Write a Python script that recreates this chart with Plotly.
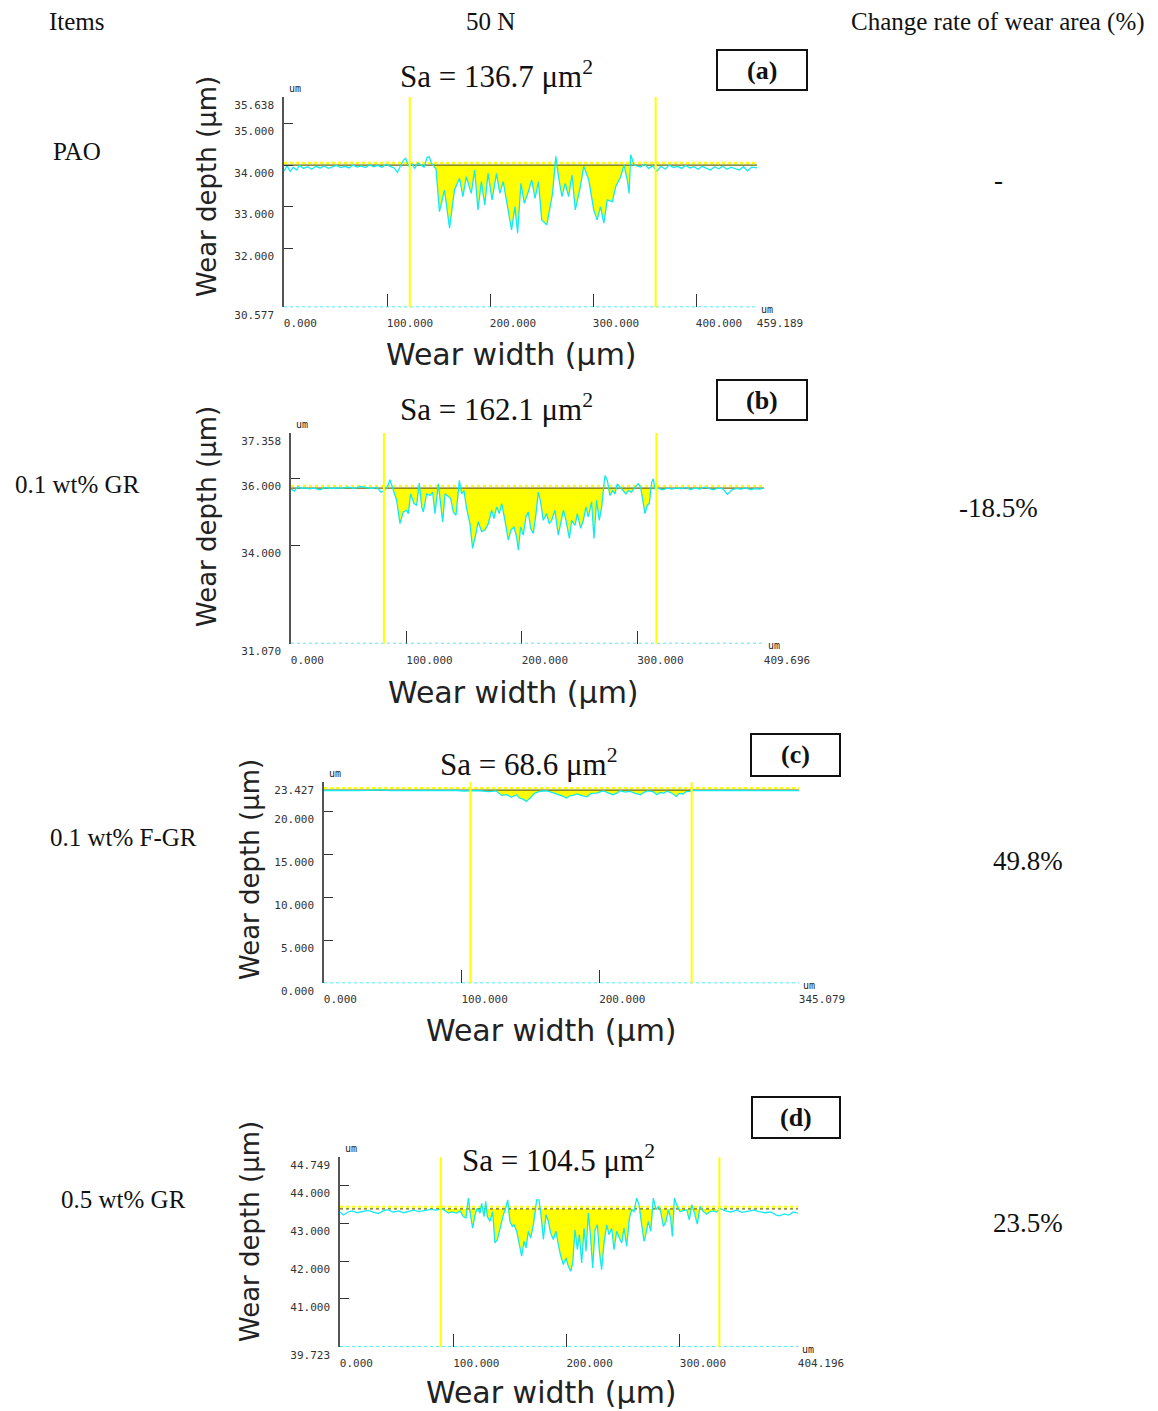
import numpy as np
import plotly.graph_objects as go

W, H = 1158, 1411

# ---------------- table text ----------------
header_items = "Items"
header_load = "50 N"
header_rate = "Change rate of wear area (%)"
lubricants = ["PAO", "0.1 wt% GR", "0.1 wt% F-GR", "0.5 wt% GR"]
change_rates = ["-", "-18.5%", "49.8%", "23.5%"]
panel_tags = ["(a)", "(b)", "(c)", "(d)"]
sa_values = [136.7, 162.1, 68.6, 104.5]

# ---------------- axis extents / ticks (µm) ----------------
x_max = [459.189, 409.696, 345.079, 404.196]
z_min = [30.577, 31.070, 0.0, 39.723]
z_max = [35.638, 37.358, 23.427, 44.749]
x_ticks = [[0, 100, 200, 300, 400], [0, 100, 200, 300], [0, 100, 200], [0, 100, 200, 300]]
z_ticks = [[32, 33, 34, 35], [34, 36], [5, 10, 15, 20], [41, 42, 43, 44]]

# reference level, measuring cursors and evaluated wear section (µm)
base_level = [34.00, 35.71, 22.47, 43.38]
cursor_left = [122.1, 80.5, 106.4, 89.0]
cursor_right = [360.8, 316.5, 267.1, 334.8]
fill_start = [145.0, 86.5, 107.0, 89.0]
fill_end = [336.0, 315.0, 267.0, 335.0]

# ---------------- surface profiles (width µm, height µm) ----------------
a_x = [0, 3, 6, 9, 12, 15, 19, 23, 27, 31, 35, 39, 43, 47, 51, 55, 59, 63, 67, 71, 75, 79, 83, 87,
       91, 95, 99, 103, 107, 110, 113, 116, 118, 121, 124, 127, 130, 133, 136, 139, 141, 143, 145,
       147.6, 150.9, 155.8, 160.7, 165.5, 170.4, 173.7, 177, 181.8, 185.1, 188.3, 191.6, 194.9,
       198.1, 202, 206.3, 209.5, 212.8, 216, 220.9, 224.2, 226.8, 230, 233.3, 237.2, 240.5, 243.7,
       247, 250.2, 255.1, 258.4, 260.7, 263.9, 266.5, 269.8, 273, 276.3, 279.6, 282.8, 287.7, 291,
       295.9, 300.7, 304, 307.3, 310.5, 313.8, 318.7, 322, 326.8, 330.1, 333.3, 335, 336.6, 339.8,
       343.1, 346, 350, 354, 358, 362, 366, 370, 374, 378, 382, 386, 390, 394, 398, 402, 406, 410,
       414, 418, 422, 426, 430, 434, 438, 442, 446, 450, 454, 459.189]
a_z = [33.86, 33.98, 33.85, 33.95, 33.88, 33.99, 33.92, 33.96, 33.90, 33.97, 33.93, 33.98, 33.92,
       33.95, 33.99, 33.94, 33.97, 33.93, 34.00, 33.95, 33.98, 33.94, 34.01, 33.96, 33.99, 33.95,
       34.02, 33.97, 33.93, 33.82, 33.96, 34.12, 34.16, 33.98, 34.03, 33.92, 34.05, 34.00, 33.95,
       34.19, 34.20, 34.05, 33.98,
       33.90, 32.88, 33.40, 32.48, 33.40, 33.68, 33.24, 33.72, 33.32, 33.88, 32.92, 33.60, 33.04,
       33.80, 33.16, 33.80, 33.32, 33.60, 33.16, 32.44, 33.00, 32.36, 33.56, 33.08, 33.36, 33.64,
       33.20, 33.60, 32.68, 32.56, 33.00, 33.32, 34.21, 33.72, 33.24, 33.56, 33.24, 33.76, 32.92,
       33.48, 33.97, 33.64, 32.92, 32.68, 33.00, 32.60, 33.16, 33.12, 33.48, 33.72, 34.00, 33.64,
       33.32, 34.25, 34.00, 33.97,
       33.95, 34.02, 33.92, 33.98, 33.85, 33.97, 33.90, 34.00, 33.94, 33.97, 33.92, 33.99, 33.93,
       33.96, 33.90, 33.97, 33.93, 33.88, 33.96, 33.91, 33.97, 33.90, 33.95, 33.92, 33.88, 33.96,
       33.86, 33.95, 33.93]

b_x = [0, 3, 6, 9, 12, 16, 20, 25, 30, 35, 40, 45, 50, 55, 60, 65, 70, 74, 78, 81, 84, 85.7,
       88.6, 91.5, 94.4, 97.3, 100.2, 101.6, 103.6, 106.5, 108.8, 111.1, 113.2, 114.6, 117.5, 120.4,
       122.7, 124.7, 127.6, 129.6, 131.4, 133.4, 136.3, 138.3, 140.6, 142.9, 145.8, 147.8, 149.8,
       152.1, 155.0, 157.3, 159.6, 162.2, 165.1, 168.0, 170.9, 173.8, 175.8, 178.1, 180.4, 182.5,
       185.3, 188.2, 190.5, 193.1, 195.4, 196.9, 198.9, 201.2, 203.5, 205.5, 207.6, 209.9, 212.2,
       214.2, 216.2, 218.5, 221.4, 223.7, 225.8, 228.6, 231.5, 233.6, 235.9, 238.2, 241.1, 243.1,
       246.0, 248.0, 250.9, 253.2, 255.5, 257.5, 260.4, 262.4, 264.7, 267.0, 269.1, 270.5, 272.0,
       274.0, 276.3, 278.6, 280.6, 282.6, 284.9, 287.8, 290.1, 292.2, 295.0, 297.9, 300.8, 302.8,
       305.2, 306.6, 308.6, 310.3, 312.4, 313.8, 315.3,
       318, 322, 326, 330, 334, 338, 342, 346, 350, 354, 358, 362, 366, 370, 374, 378, 382, 386,
       390, 394, 398, 402, 406, 409.696]
b_z = [35.68, 35.62, 35.76, 35.70, 35.72, 35.69, 35.71, 35.66, 35.73, 35.70, 35.72, 35.71, 35.74,
       35.70, 35.76, 35.72, 35.70, 35.74, 35.59, 35.64, 35.80, 35.96,
       35.64, 35.35, 34.65, 35.00, 35.05, 34.95, 35.54, 35.25, 35.20, 35.86, 35.15, 35.00, 35.54,
       35.49, 35.59, 34.95, 35.84, 35.15, 34.70, 35.54, 35.45, 35.40, 35.00, 34.90, 35.94, 35.54,
       35.64, 35.10, 34.65, 33.91, 34.26, 34.70, 34.41, 34.46, 34.65, 35.05, 34.80, 35.15, 34.95,
       35.25, 34.75, 34.16, 34.46, 34.55, 34.26, 33.86, 34.55, 34.31, 34.85, 35.00, 34.51, 34.36,
       34.95, 35.59, 35.30, 34.75, 34.95, 34.65, 34.75, 35.05, 34.31, 34.70, 35.05, 34.75, 34.21,
       34.75, 34.60, 34.95, 34.51, 34.75, 35.15, 34.85, 35.30, 34.21, 35.35, 34.75, 35.15, 35.64,
       36.09, 35.94, 35.49, 35.64, 35.54, 35.84, 35.74, 35.64, 35.54, 35.64, 35.59, 35.74, 35.84,
       35.74, 35.15, 34.95, 35.20, 35.25, 35.89, 35.99, 35.69,
       35.70, 35.66, 35.71, 35.68, 35.72, 35.69, 35.73, 35.67, 35.71, 35.68, 35.74, 35.70, 35.66,
       35.72, 35.69, 35.53, 35.66, 35.70, 35.68, 35.72, 35.67, 35.70, 35.68, 35.71]

c_x = [0, 8, 16, 24, 32, 40, 48, 56, 64, 72, 80, 88, 96, 102, 106,
       110, 115, 120, 125, 129, 133, 136, 140, 142, 145, 147, 150, 153, 157, 162, 166, 169, 172,
       174, 176, 179, 181, 184, 186, 189, 191, 194, 198, 201, 203, 206, 210, 213, 215, 219, 222,
       226, 230, 232, 235, 239, 242, 244, 247, 249, 252, 256, 258, 261, 263, 266, 268,
       272, 280, 288, 296, 304, 312, 320, 328, 336, 345.079]
c_z = [22.44, 22.42, 22.46, 22.43, 22.45, 22.50, 22.43, 22.44, 22.46, 22.42, 22.45, 22.43, 22.44,
       22.38, 22.44,
       22.42, 22.38, 22.30, 22.40, 21.87, 21.95, 21.64, 21.95, 21.56, 21.40, 21.17, 21.60, 22.10,
       22.35, 22.40, 22.20, 22.03, 21.90, 21.75, 21.56, 21.85, 21.87, 22.03, 21.90, 21.75, 21.70,
       22.10, 22.14, 22.30, 22.40, 22.20, 21.95, 22.15, 22.40, 22.26, 22.35, 22.10, 21.95, 22.20,
       22.40, 22.30, 21.95, 22.20, 22.14, 22.35, 22.20, 21.75, 22.10, 22.03, 22.30, 22.34, 22.45,
       22.43, 22.45, 22.42, 22.46, 22.44, 22.43, 22.45, 22.42, 22.44, 22.43]

d_x = [0, 3, 7, 11, 15, 20, 25, 30, 34, 38, 42, 47, 52, 56, 60, 65, 70, 75, 80, 84, 87,
       89.7, 92.7, 95.6, 98.6, 103.0, 105.9, 108.9, 111.2, 113.3, 115.3, 117.1, 119.2, 121.2, 123.6,
       125.0, 127.1, 128.6, 130.0, 132.4, 134.7, 136.8, 138.9, 141.2, 144.2, 146.2, 148.0, 150.0,
       152.1, 153.6, 155.9, 158.0, 160.3, 162.4, 164.2, 166.2, 168.3, 170.6, 173.6, 175.6, 177.4,
       179.5, 181.8, 183.9, 185.9, 188.3, 190.6, 192.7, 194.8, 197.1, 199.5, 201.5, 203.6, 205.4,
       207.4, 209.5, 211.2, 213.3, 215.4, 217.1, 219.2, 221.2, 223.0, 225.1, 227.1, 228.9, 230.9,
       233.0, 235.4, 237.4, 239.8, 241.8, 244.2, 246.5, 248.6, 250.7, 253.0, 255.4, 257.4, 259.5,
       261.8, 263.9, 266.3, 268.3, 270.1, 272.1, 274.2, 276.5, 278.9, 281.0, 283.0, 285.4, 287.7,
       289.8, 291.8, 293.3, 295.1, 297.1, 300.1, 303.0, 306.0, 308.3, 310.4, 312.4, 315.4, 317.7,
       320.7, 323.6, 326.6, 329.5, 332.4, 335.4,
       340, 345, 350, 355, 360, 365, 370, 375, 380, 385, 388, 392, 396, 400, 404.196]
d_z = [43.30, 43.22, 43.30, 43.33, 43.28, 43.31, 43.34, 43.29, 43.26, 43.33, 43.36, 43.30, 43.33,
       43.28, 43.32, 43.35, 43.31, 43.34, 43.37, 43.35, 43.36,
       43.40, 43.33, 43.27, 43.30, 43.27, 43.33, 43.18, 43.14, 43.67, 43.18, 42.87, 43.23, 43.40,
       43.27, 43.53, 43.18, 43.58, 43.18, 43.05, 43.31, 42.48, 42.57, 42.87, 43.23, 43.40, 43.62,
       43.05, 42.92, 42.96, 42.79, 42.48, 42.13, 42.52, 42.35, 42.79, 42.61, 42.96, 43.62, 43.62,
       43.23, 42.57, 43.23, 43.05, 42.74, 42.57, 42.79, 42.43, 42.13, 41.91, 42.08, 41.86, 41.73,
       41.95, 42.83, 42.30, 42.70, 41.95, 42.87, 42.26, 43.27, 42.61, 41.82, 42.83, 42.96, 42.26,
       41.77, 42.48, 42.96, 42.70, 42.87, 42.30, 42.79, 42.61, 42.48, 42.87, 42.39, 43.14, 43.36,
       43.31, 43.67, 43.49, 42.96, 42.52, 42.74, 43.05, 42.79, 43.67, 43.36, 43.45, 43.31, 42.92,
       43.05, 43.36, 43.14, 42.65, 43.67, 43.49, 43.31, 43.33, 43.36, 43.09, 43.49, 43.31, 42.98,
       43.45, 43.31, 43.24, 43.31, 43.33, 43.30, 43.40,
       43.33, 43.30, 43.35, 43.29, 43.32, 43.35, 43.31, 43.28, 43.30, 43.22, 43.20, 43.25, 43.22,
       43.30, 43.27]

profiles_x = [a_x, b_x, c_x, d_x]
profiles_z = [a_z, b_z, c_z, d_z]

# ---------------- page layout (pixels) ----------------
plot_box = [(284, 757, 97, 307.3), (291, 764, 433, 643.5), (324, 799, 782, 983.3), (340, 798, 1157.3, 1347)]
title_pos = [(496, 75), (496, 407), (529, 762), (558, 1158)]
tag_box = [(717, 807, 50, 90), (717, 807, 380, 420), (751, 840, 734, 776), (752, 840, 1097, 1138)]
depth_label_pos = [(207, 187), (207, 517), (250, 870), (250, 1232)]
width_label_pos = [(511, 355), (513, 692), (551, 1030), (551, 1392)]
row_label_pos = [(77, 152), (77, 484), (123, 837), (123, 1199)]
rate_pos = [(998, 180), (998, 508), (1028, 861), (1028, 1223)]

CYAN = "#12eaf0"
YELLOW = "#ffff00"
OLIVE = "#6f6800"
SERIF = "Liberation Serif"
MONO = "DejaVu Sans Mono"
SANS = "DejaVu Sans"


def px(x):
    return x / W


def py(y):
    return 1 - y / H


fig = go.Figure()
annotations = []
shapes = []

for i in range(4):
    n = "" if i == 0 else str(i + 1)
    xr, yr = "x" + n, "y" + n
    x0p, x1p, y0p, y1p = plot_box[i]
    xs = np.array(profiles_x[i], dtype=float)
    zs = np.array(profiles_z[i], dtype=float)
    base = base_level[i]
    z_per_px = (z_max[i] - z_min[i]) / (y1p - y0p)

    # worn section: area between the reference level and the profile
    m = (xs >= fill_start[i]) & (xs <= fill_end[i])
    fx = xs[m]
    fz = np.minimum(zs[m], base)
    fig.add_trace(go.Scatter(
        x=np.concatenate([[fx[0]], fx, [fx[-1]]]),
        y=np.concatenate([[base], fz, [base]]),
        fill="toself", fillcolor=YELLOW, line=dict(width=0), mode="lines",
        xaxis=xr, yaxis=yr, hoverinfo="skip", showlegend=False))

    # reference level lines
    fig.add_trace(go.Scatter(
        x=[0, x_max[i]], y=[base + 2.2 * z_per_px] * 2, mode="lines",
        line=dict(color=YELLOW, width=2.2, dash="dot"),
        xaxis=xr, yaxis=yr, hoverinfo="skip", showlegend=False))
    fig.add_trace(go.Scatter(
        x=[0, x_max[i]], y=[base] * 2, mode="lines",
        line=dict(color=OLIVE, width=1.3, dash="dot" if i == 3 else "solid"),
        xaxis=xr, yaxis=yr, hoverinfo="skip", showlegend=False))

    # measured profile
    fig.add_trace(go.Scatter(
        x=xs, y=zs, mode="lines", line=dict(color=CYAN, width=1.3),
        xaxis=xr, yaxis=yr, showlegend=False))

    xt = x_ticks[i] + [x_max[i]]
    yt = [z_min[i]] + z_ticks[i] + [z_max[i]]
    fig.update_layout({
        "xaxis" + n: dict(
            domain=[px(x0p), px(x1p)], anchor=yr, range=[0, x_max[i]], automargin=False,
            showgrid=False, zeroline=False, showline=False,
            ticks="inside", ticklen=13, tickwidth=1.2, tickcolor="#333",
            tickvals=xt, ticktext=[f"{v:.3f}".ljust(7, "\u00a0") for v in xt],
            tickfont=dict(family=MONO, size=11, color="#333"),
            ticklabelshift=23, ticklabelstandoff=8),
        "yaxis" + n: dict(
            domain=[py(y1p), py(y0p)], anchor=xr, range=[z_min[i], z_max[i]], automargin=False,
            showgrid=False, zeroline=False, showline=True, linecolor="#555", linewidth=1.5,
            ticks="inside", ticklen=9, tickwidth=1.2, tickcolor="#333",
            tickvals=yt, ticktext=[f"{v:.3f}" for v in yt],
            tickfont=dict(family=MONO, size=11, color="#333"),
            ticklabelshift=8, ticklabelstandoff=6),
    })

    # dotted bottom profile axis
    shapes.append(dict(type="line", xref=xr, yref=yr, x0=0, x1=x_max[i], y0=z_min[i], y1=z_min[i],
                       line=dict(color=CYAN, width=1.5, dash="dot")))
    # measuring cursors
    for cx in (cursor_left[i], cursor_right[i]):
        shapes.append(dict(type="line", xref=xr, yref=yr + " domain", x0=cx, x1=cx, y0=0, y1=1,
                           line=dict(color=YELLOW, width=2)))

    # unit markers
    annotations.append(dict(x=0, y=z_max[i], xref=xr, yref=yr, text="um", showarrow=False,
                            xanchor="left", yanchor="bottom", xshift=3, yshift=1,
                            font=dict(family=MONO, size=10, color="#222")))
    annotations.append(dict(x=x_max[i], y=z_min[i], xref=xr, yref=yr, text="um", showarrow=False,
                            xanchor="left", yanchor="middle", xshift=2, yshift=-2,
                            font=dict(family=MONO, size=10, color="#222")))

    # Sa title
    tx, ty = title_pos[i]
    annotations.append(dict(x=px(tx), y=py(ty), xref="paper", yref="paper",
                            text=f"Sa = {sa_values[i]:.1f} μm<sup>2</sup>", showarrow=False,
                            xanchor="center", yanchor="middle",
                            font=dict(family=SERIF, size=31, color="#111")))
    # panel tag in a box
    bx0, bx1, by0, by1 = tag_box[i]
    shapes.append(dict(type="rect", xref="paper", yref="paper", x0=px(bx0), x1=px(bx1),
                       y0=py(by1), y1=py(by0), line=dict(color="#111", width=2)))
    annotations.append(dict(x=px((bx0 + bx1) / 2), y=py((by0 + by1) / 2), xref="paper", yref="paper",
                            text=f"<b>{panel_tags[i]}</b>", showarrow=False,
                            xanchor="center", yanchor="middle",
                            font=dict(family=SERIF, size=26, color="#111")))
    # axis titles
    dx, dy = depth_label_pos[i]
    annotations.append(dict(x=px(dx), y=py(dy), xref="paper", yref="paper", text="Wear depth (μm)",
                            textangle=-90, showarrow=False, xanchor="center", yanchor="middle",
                            font=dict(family=SANS, size=26, color="#222")))
    wx, wy = width_label_pos[i]
    annotations.append(dict(x=px(wx), y=py(wy), xref="paper", yref="paper", text="Wear width (μm)",
                            showarrow=False, xanchor="center", yanchor="middle",
                            font=dict(family=SANS, size=30, color="#222")))
    # table columns
    lx, ly = row_label_pos[i]
    annotations.append(dict(x=px(lx), y=py(ly), xref="paper", yref="paper", text=lubricants[i],
                            showarrow=False, xanchor="center", yanchor="middle",
                            font=dict(family=SERIF, size=25, color="#111")))
    rx, ry = rate_pos[i]
    annotations.append(dict(x=px(rx), y=py(ry), xref="paper", yref="paper", text=change_rates[i],
                            showarrow=False, xanchor="center", yanchor="middle",
                            font=dict(family=SERIF, size=27, color="#111")))

for text, (hx, hy) in zip([header_items, header_load, header_rate], [(77, 22), (490, 22), (998, 22)]):
    annotations.append(dict(x=px(hx), y=py(hy), xref="paper", yref="paper", text=text,
                            showarrow=False, xanchor="center", yanchor="middle",
                            font=dict(family=SERIF, size=25, color="#111")))

fig.update_layout(
    width=W, height=H, margin=dict(l=0, r=0, t=0, b=0, autoexpand=False),
    paper_bgcolor="white", plot_bgcolor="white",
    annotations=annotations, shapes=shapes, showlegend=False,
)

fig.write_html("out.html")
